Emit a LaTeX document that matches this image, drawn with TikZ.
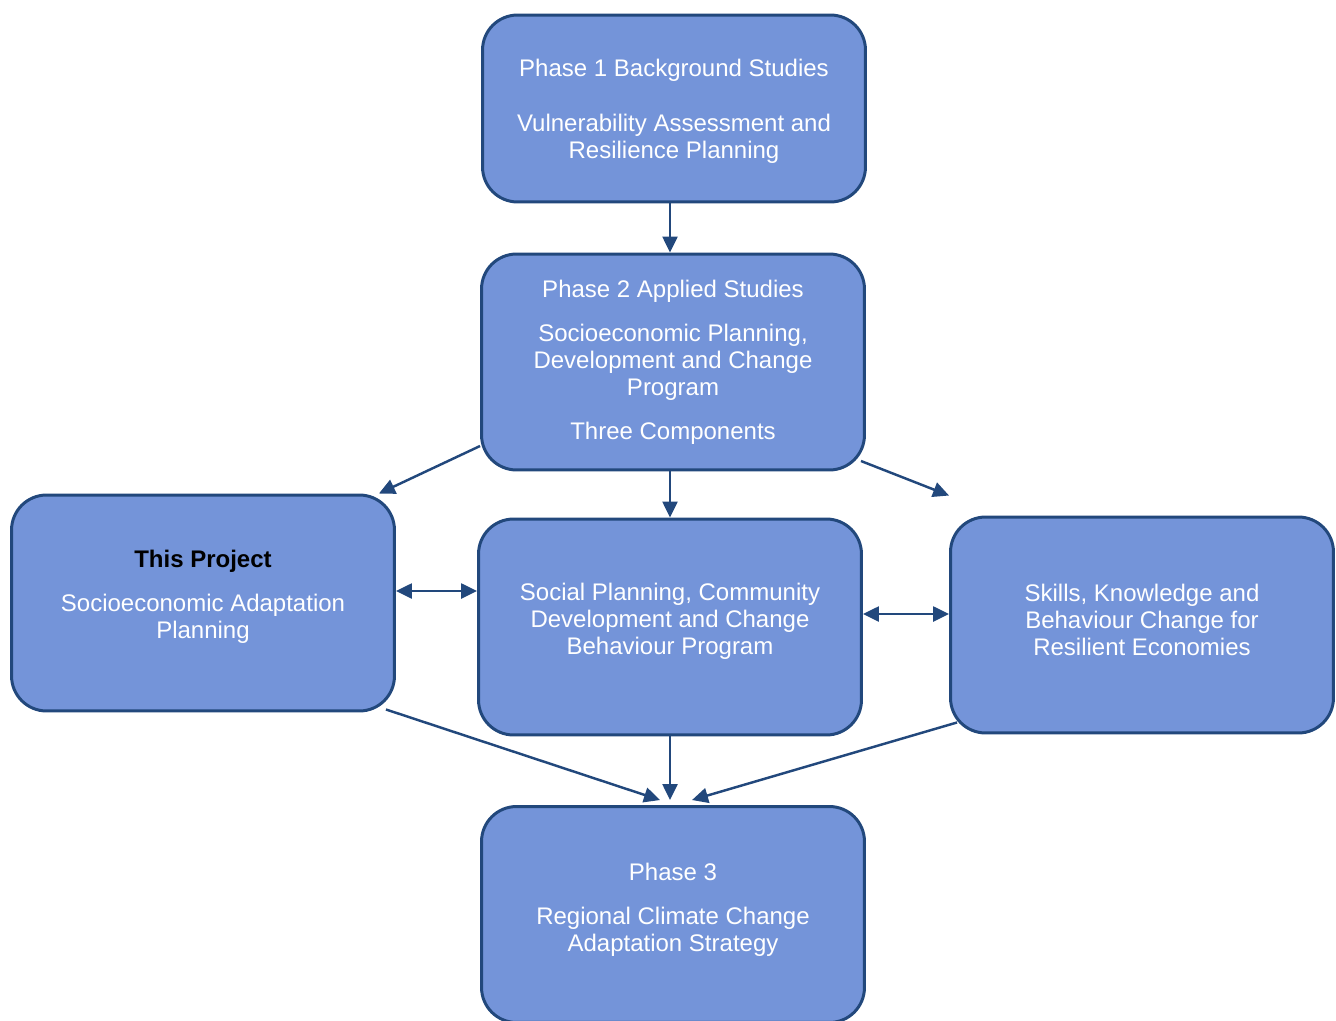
\documentclass[tikz,border=0pt]{standalone}
\usepackage{fontspec}
\setmainfont{Liberation Sans}
\usepackage{xcolor}
\usepackage{tikz}
\usetikzlibrary{positioning, arrows.meta, calc}

\definecolor{boxfill}{RGB}{116,148,217}
\definecolor{boxline}{RGB}{34,72,124}

\begin{document}
\begin{tikzpicture}[x=0.02cm, y=-0.02cm,
  box/.style={draw=boxline, fill=boxfill, line width=1.7pt, rounded corners=0.7cm,
    minimum width=7.66cm, minimum height=4.32cm},
  txt/.style={text=white, align=center, font=\fontsize{13.66pt}{15.36pt}\selectfont},
  link/.style={draw=boxline, line width=1.4pt, -{Triangle[length=0.32cm,width=0.3cm]}},
  twoway/.style={link, {Triangle[length=0.32cm,width=0.3cm]}-{Triangle[length=0.32cm,width=0.3cm]}}]
% page frame (pixels of the original)
\clip (0,0) rectangle (1336,1021);
% boxes
\node[box, minimum height=3.74cm] (phase1) at (674,108.5) {};
\node[box] (phase2) at (673,362) {};
\node[box] (project) at (203,603) {};
\node[box] (social) at (670,627) {};
\node[box] (skills) at (1142,625) {};
\node[box] (phase3) at (673,914.5) {};
% box texts
\node[txt] (phase1txt) at ($(phase1)+(0,2.5)$) {Phase 1 Background Studies\\[0.56cm]
  Vulnerability Assessment and\\Resilience Planning};
\node[txt] (phase2txt) at ($(phase2)+(0,0.5)$) {Phase 2 Applied Studies\\[0.34cm]
  Socioeconomic Planning,\\Development and Change\\Program\\[0.34cm]Three Components};
\node[txt] (projecttxt) at ($(project)+(0,-6.5)$) {\textcolor{black}{\textbf{This Project}}\\[0.34cm]
  Socioeconomic Adaptation\\Planning};
\node[txt] (socialtxt) at ($(social)+(0,-5.5)$) {Social Planning, Community\\
  Development and Change\\Behaviour Program};
\node[txt] (skillstxt) at ($(skills)+(0,-5)$) {Skills, Knowledge and\\
  Behaviour Change for\\Resilient Economies};
\node[txt] (phase3txt) at ($(phase3)+(0,-5)$) {Phase 3\\[0.34cm]
  Regional Climate Change\\Adaptation Strategy};
% connector ends
\coordinate (phase1out) at ($(phase1.south)+(-4,0)$);
\coordinate (phase2out) at ($(phase2.south)+(-3,0)$);
\coordinate (skillsin) at ($(skills.north west)+(0,-20)$);
\coordinate (projectside) at ($(project.east)+(0,-12)$);
\coordinate (socialside) at ($(social.east)+(0,-13)$);
\coordinate (phase3in) at ($(social.south |- phase3.north)+(0,-5)$);
% connectors
\draw[link] (phase1out) -- (phase1out |- phase2.north);
\draw[link] ($(phase2.west)+(0,84)$) -- ($(project.north east)+(-17,0)$);
\draw[link] (phase2out) -- (phase2out |- social.north);
\draw[link] ($(phase2.east)+(-5,99)$) -- (skillsin);
\draw[twoway] (projectside) -- (projectside -| social.west);
\draw[twoway] (socialside) -- (socialside -| skills.west);
\draw[link] ($(project.south east)+(-10,-3)$) -- ($(phase3in)+(-10,0)$);
\draw[link] (social.south) -- (phase3in);
\draw[link] ($(skills.south west)+(8,-12)$) -- ($(phase3in)+(22,0)$);
\end{tikzpicture}
\end{document}
